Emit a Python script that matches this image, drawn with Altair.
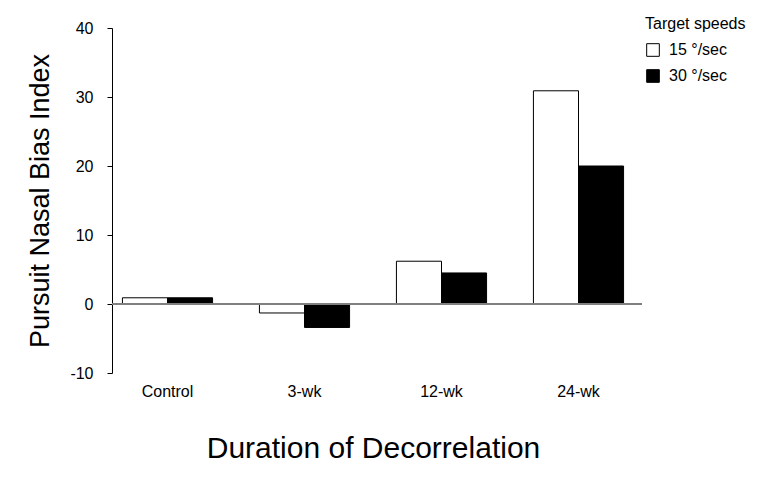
import altair as alt
import pandas as pd

categories = ["Control", "3-wk", "12-wk", "24-wk"]
speeds = ["15 °/sec", "30 °/sec"]
speed15 = [0.9, -1.3, 6.2, 30.9]
speed30 = [0.9, -3.4, 4.5, 20.0]
y_ticks = [-10, 0, 10, 20, 30, 40]

rows = []
for c, a, b in zip(categories, speed15, speed30):
    rows.append({"cat": c, "speed": speeds[0], "value": a})
    rows.append({"cat": c, "speed": speeds[1], "value": b})
df = pd.DataFrame(rows)

FONT = "Liberation Sans"

bars = alt.Chart(df).mark_bar(stroke="black", strokeWidth=1).encode(
    x=alt.X("cat:N", sort=categories,
            scale=alt.Scale(paddingInner=0, paddingOuter=0),
            axis=alt.Axis(title="Duration of Decorrelation", labelAngle=0,
                          ticks=False, domain=False, labelPadding=10,
                          labelFontSize=16, titleFontSize=30, titlePadding=34,
                          titleFontWeight="normal", labelColor="black",
                          titleColor="black", labelFont=FONT, titleFont=FONT)),
    xOffset=alt.XOffset("speed:N", sort=speeds,
                        scale=alt.Scale(paddingInner=0, paddingOuter=0.52)),
    y=alt.Y("value:Q", scale=alt.Scale(domain=[-10, 40], nice=False),
            axis=alt.Axis(title="Pursuit Nasal Bias Index", values=y_ticks,
                          labelExpr="'' + datum.value",
                          offset=-13, grid=False, tickSize=5, tickColor="black",
                          domainColor="black", labelPadding=14, labelFontSize=16,
                          titleFontSize=27, titleFontWeight="normal",
                          titlePadding=15, labelColor="black", titleColor="black",
                          labelFont=FONT, titleFont=FONT)),
    fill=alt.Fill("speed:N", sort=speeds,
                  scale=alt.Scale(domain=speeds, range=["white", "black"]),
                  legend=alt.Legend(title="Target speeds", orient="none",
                                    legendX=546, legendY=-12,
                                    symbolType="square", symbolSize=160,
                                    symbolStrokeColor="black", symbolStrokeWidth=1,
                                    labelFontSize=16, titleFontSize=16,
                                    titleFontWeight="normal", labelFont=FONT,
                                    titleFont=FONT, labelColor="black",
                                    titleColor="black", titlePadding=10,
                                    rowPadding=8, labelOffset=8)),
)

zero = alt.Chart(df).mark_rule(color="#808080", strokeWidth=1.5).encode(
    x=alt.value(13), x2=alt.value(543), y=alt.datum(0)
)

chart = alt.layer(bars, zero).properties(
    width=548, height=345,
    autosize=alt.AutoSizeParams(type="none"),
    padding={"left": 91, "top": 20, "right": 107, "bottom": 98},
).configure_view(stroke=None)

chart.save("out.html", embed_options={"renderer": "svg", "actions": False})
